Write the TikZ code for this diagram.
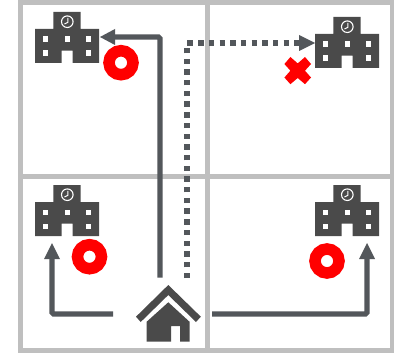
\documentclass[tikz,border=0pt]{standalone}
\definecolor{gridc}{HTML}{BFBFBF}
\definecolor{bld}{HTML}{4A4A4A}
\definecolor{arr}{HTML}{53575B}
\tikzset{
  x=1pt,y=-1pt,
  gridline/.style={draw=gridc,line width=5pt},
  route/.style={draw=arr,line width=5.2pt,rounded corners=1.5pt},
  routehead/.style={fill=arr},
  dotroute/.style={draw=arr,line width=5.6pt,dash pattern=on 5.4pt off 5.3pt},
  ring/.style={circle,draw=red,line width=11.5pt,minimum size=24pt,inner sep=0pt,fill=white},
  pics/school/.style={code={
    \fill[bld] (18.3,0) -- (45.7,0) -- (45.7,17) -- (64,17) -- (64,51) -- (37.7,51) -- (37.7,38.7) -- (26.7,38.7) -- (26.7,51) -- (0,51) -- (0,17) -- (18.3,17) -- cycle;
    \foreach \wx in {8,29.7,51}{\fill[white] (\wx,24.5) rectangle ++(5.4,5.4);}
    \foreach \wx in {8,51}{\fill[white] (\wx,38.5) rectangle ++(5.4,5.4);}
    \draw[white,line width=1.1pt] (32.3,9.7) circle (5.8);
    \draw[white,line width=1pt] (32.8,5.8) -- (32.8,10.4) -- (29.4,12);
  }},
}
\begin{document}
\begin{tikzpicture}
\useasboundingbox (0,0) rectangle (394,353);
\fill[white] (0,0) rectangle (394,353);
\coordinate (gTL) at (20,2.5); \coordinate (gBR) at (392.5,350.5);
\draw[gridline] (gTL) rectangle (gBR);
\draw[gridline] (207.5,2.5) -- (207.5,350.5);
\draw[gridline] (20,176) -- (392.5,176);

\pic at (35,12) {school};
\pic at (315,17) {school};
\pic at (35,185) {school};
\pic at (315,185) {school};

\node[ring] (r1) at (121,62.7) {};
\node[ring] (r2) at (89.5,256.7) {};
\node[ring] (r3) at (327,261) {};

\fill[red] (297.7,63.4) -- (305,57) -- (311,64) -- (305,70.7) -- (311,77.5) -- (305,84.2) -- (297.7,78) -- (290.4,84.2) -- (284.4,77.5) -- (290.4,70.7) -- (284.4,64) -- (290.4,57) -- cycle;

% house
\fill[bld] (168.3,285) -- (200.8,316.7) -- (196,322) -- (168.3,295) -- (140.7,322) -- (136,316.7) -- cycle;
\fill[bld] (168.3,302.3) -- (189.5,321.7) -- (189.5,341.7) -- (180,341.7) -- (180,326) -- (171,326) -- (171,341.7) -- (146.7,341.7) -- (146.7,321.7) -- cycle;

\coordinate (s1) at (160,277.5); \coordinate (c1) at (160,37); \coordinate (t1) at (100,37);
\coordinate (s2) at (187,278); \coordinate (c2) at (187,43); \coordinate (t2) at (315,43);
\coordinate (s3) at (113,314); \coordinate (c3) at (52,314); \coordinate (t3) at (52,243);
\coordinate (s4) at (212,314); \coordinate (c4) at (367,314); \coordinate (t4) at (367,243);
\draw[route] (s1) -- (c1) -- (112,37);
\fill[routehead] (t1) -- (115,29) -- (115,45) -- cycle;
\draw[route] (s3) -- (c3) -- (52,256);
\fill[routehead] (t3) -- (44,259) -- (60,259) -- cycle;
\draw[route] (s4) -- (c4) -- (367,256);
\fill[routehead] (t4) -- (359,259) -- (375,259) -- cycle;
\draw[dotroute] (s2) -- (c2) -- (299,43);
\fill[routehead] (t2) -- (299,35) -- (299,51) -- cycle;
\end{tikzpicture}
\end{document}
